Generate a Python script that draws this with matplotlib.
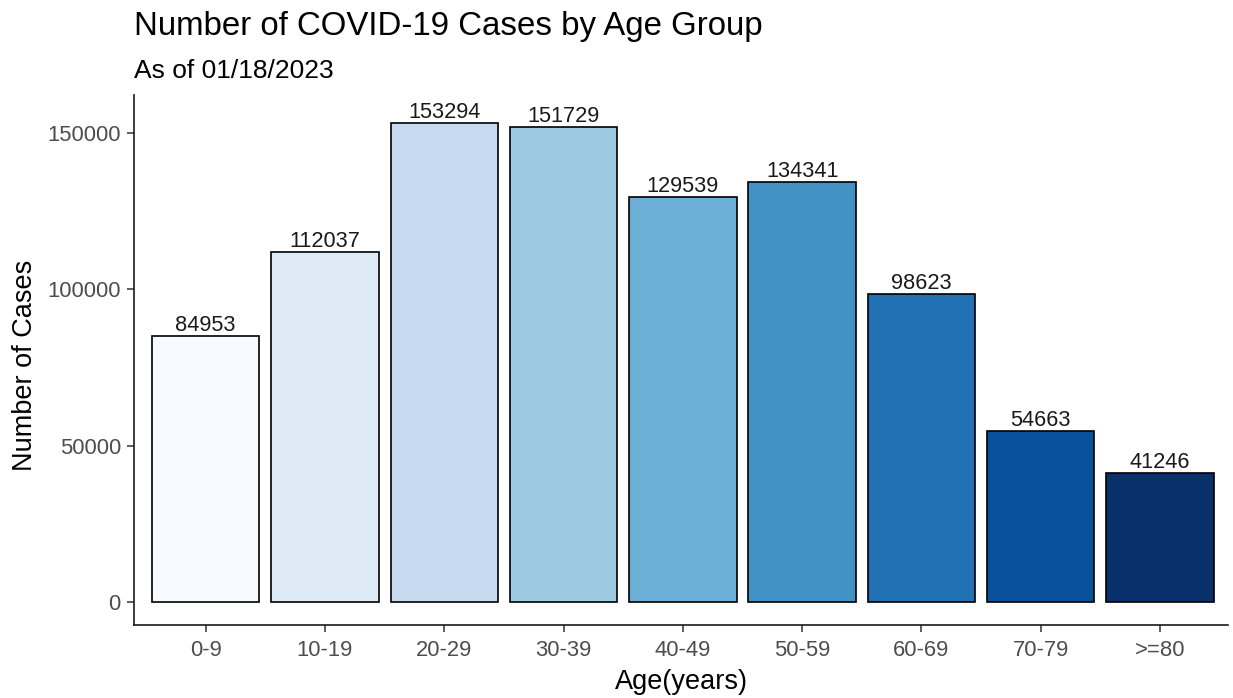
import numpy as np
import matplotlib.pyplot as plt

plt.rcParams['font.family'] = ['Liberation Sans', 'DejaVu Sans']

age_groups = ['0-9', '10-19', '20-29', '30-39', '40-49', '50-59', '60-69', '70-79', '>=80']
cases = [84953, 112037, 153294, 151729, 129539, 134341, 98623, 54663, 41246]
colors = ['#F7FBFF', '#DEEBF7', '#C6DBEF', '#9ECAE1', '#6BAED6',
          '#4292C6', '#2171B5', '#08519C', '#08306B']

fig = plt.figure(figsize=(12.33, 6.98), dpi=100)
ax = fig.add_axes([0.1087, 0.1046, 0.8873, 0.7593])

x = np.arange(len(age_groups))
bars = ax.bar(x, cases, width=0.9, color=colors, edgecolor='black', linewidth=1.2)
for xi, v in zip(x, cases):
    ax.text(xi, v, str(v), ha='center', va='bottom', fontsize=15.7, color='#1a1a1a')

ax.set_xlim(-0.6, 8.57)
ax.set_ylim(-7350, 162100)
ax.set_xticks(x)
ax.set_xticklabels(age_groups)
ax.set_yticks([0, 50000, 100000, 150000])
ax.set_yticklabels(['0', '50000', '100000', '150000'])
ax.tick_params(axis='both', labelsize=15.8, labelcolor='#4d4d4d', color='#333333',
               length=5, width=1.1)
ax.tick_params(axis='x', pad=5.5)
ax.tick_params(axis='y', pad=4.5)

for s in ['top', 'right']:
    ax.spines[s].set_visible(False)
for s in ['left', 'bottom']:
    ax.spines[s].set_linewidth(1.2)
    ax.spines[s].set_color('#1a1a1a')

ax.set_xlabel('Age(years)', fontsize=19.5, va='top')
ax.xaxis.set_label_coords(0.5, -0.083)
ax.set_ylabel('Number of Cases', fontsize=19.5)
ax.yaxis.set_label_coords(-0.088, 0.49)

fig.text(0.1087, 0.962, 'Number of COVID-19 Cases by Age Group', fontsize=23.8,
         ha='left', va='center')
fig.text(0.1087, 0.898, 'As of 01/18/2023', fontsize=19, ha='left', va='center')

fig.savefig('out.png', dpi=100)
